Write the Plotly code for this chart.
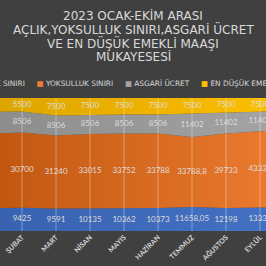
import numpy as np
import plotly.graph_objects as go

months = ["OCAK", "ŞUBAT", "MART", "NİSAN", "MAYIS", "HAZİRAN", "TEMMUZ", "AĞUSTOS", "EYLÜL", "EKİM"]
aclik = [8950, 9425, 9591, 10135, 10362, 10373, 11658.05, 12198, 13333, 13987]
yoksulluk = [29150, 30700, 31240, 33015, 33752, 33788, 33788.8, 39733, 43333, 45561]
asgari = [8506, 8506, 8506, 8506, 8506, 8506, 11402, 11402, 11402, 11402]
emekli = [5500, 5500, 7500, 7500, 7500, 7500, 7500, 7500, 7500, 7500]
label_text = {
    "aclik": ["8950", "9425", "9591", "10135", "10362", "10373", "11658,05", "12198", "13333", "13987"],
    "yoksulluk": ["29150", "30700", "31240", "33015", "33752", "33788", "33788,8", "39733", "43333", "45561"],
    "asgari": [str(v) for v in asgari],
    "emekli": [str(v) for v in emekli],
}
names = ["AÇLIK SINIRI", "YOKSULLUK SINIRI", "ASGARİ ÜCRET", "EN DÜŞÜK EMEKLİ MAAŞI"]
colors = ["#4472c4", "#ed7d31", "#a5a5a5", "#ffc000"]
dark = ["#3862b0", "#c0560f", "#8c8c8c", "#dba400"]

x = np.arange(len(months))
series = [aclik, yoksulluk, asgari, emekli]
keys = ["aclik", "yoksulluk", "asgari", "emekli"]

fig = go.Figure()
for s, n, c, d in zip(series, names, colors, dark):
    fig.add_trace(go.Scatter(
        x=x, y=s, name=n, stackgroup="one", groupnorm="percent",
        mode="lines", line=dict(width=0, color=c),
        fillgradient=dict(type="horizontal", colorscale=[[0, d], [1, c]]),
        hoverinfo="skip", showlegend=False,
    ))

arr = np.array(series, dtype=float)
pct = arr / arr.sum(axis=0) * 100
cum = np.cumsum(pct, axis=0)
mid = cum - pct / 2
for i, k in enumerate(keys):
    fig.add_trace(go.Scatter(
        x=x, y=mid[i], mode="text", text=label_text[k],
        textfont=dict(family="Lato", size=8, color="#dcdcdc"),
        showlegend=False, hoverinfo="skip",
    ))

for xi in x:
    fig.add_shape(type="line", xref="x", yref="y", x0=xi, x1=xi, y0=0, y1=100,
                  line=dict(color="rgba(255,255,255,0.35)", width=1), layer="above")

H_TOP, H_BOT = 98, 35
plot_h = 266 - H_TOP - H_BOT


def py(p):
    return (266 - H_BOT - p) / plot_h


title_lines = ["2023 OCAK-EKİM ARASI", "AÇLIK,YOKSULLUK SINIRI,ASGARİ ÜCRET",
               "VE EN DÜŞÜK EMEKLİ MAAŞI", "MUKAYESESİ"]
for i, t in enumerate(title_lines):
    fig.add_annotation(text=t, xref="paper", yref="paper", x=0.5, y=py(15 + 14 * i),
                       showarrow=False, xanchor="center", yanchor="middle",
                       font=dict(family="DejaVu Sans", size=12, color="#d9d9d9"))

leg = "&nbsp;&nbsp;&nbsp;&nbsp;&nbsp;".join(
    f"<span style='color:{c}'>■</span>&nbsp;{n}" for n, c in zip(names, colors))
fig.add_annotation(text=leg, xref="paper", yref="paper", x=0.515, y=py(83),
                   showarrow=False, xanchor="center", yanchor="middle",
                   font=dict(family="DejaVu Sans", size=7.4, color="#d9d9d9"))

r0 = 1 - 22 / 34.0
fig.update_layout(
    width=266, height=266,
    margin=dict(l=0, r=0, t=H_TOP, b=H_BOT),
    paper_bgcolor="#404040", plot_bgcolor="#404040",
    xaxis=dict(range=[r0, r0 + 266 / 34.0], tickvals=x, ticktext=months, tickangle=-45,
               showgrid=False, zeroline=False, showline=False, ticks="",
               tickfont=dict(family="Lato", size=7, color="#d9d9d9", weight="bold")),
    yaxis=dict(range=[0, 100], visible=False),
    showlegend=False,
)
fig.write_html("out.html")
